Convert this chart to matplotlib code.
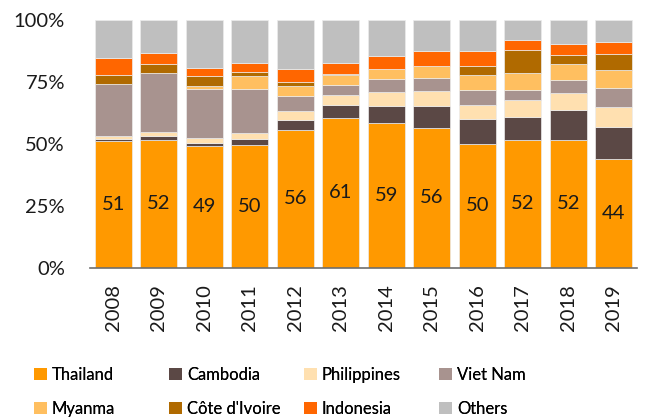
# Share of rice exports by origin, 2008-2019 (stacked 100% bars)

import matplotlib.pyplot as plt
from matplotlib.patches import Patch
import numpy as np

FONT = 'Lato'
TICK_SIZE = 14.5
LEGEND_SIZE = 12

years = ['2008', '2009', '2010', '2011', '2012', '2013',
         '2014', '2015', '2016', '2017', '2018', '2019']

thailand = [51.2, 51.6, 49.0, 49.6, 55.6, 60.6, 58.6, 56.2, 49.9, 51.6, 51.6, 43.8]
cambodia = [0.7, 1.5, 1.3, 2.4, 4.0, 5.0, 6.6, 9.2, 10.2, 9.1, 12.1, 13.0]
philippines = [1.4, 1.6, 2.1, 2.3, 3.6, 4.1, 5.9, 5.8, 5.4, 6.8, 7.0, 8.2]
viet_nam = [21.0, 23.8, 19.6, 17.9, 6.1, 4.1, 5.2, 5.5, 6.3, 4.3, 5.2, 7.4]
myanma = [0.0, 0.0, 1.5, 5.3, 3.9, 4.0, 4.1, 4.8, 5.9, 6.9, 6.5, 7.3]
cote_divoire = [3.4, 3.7, 4.0, 1.6, 1.8, 0.5, 0.0, 0.0, 3.6, 9.4, 3.3, 6.7]
indonesia = [7.0, 4.3, 3.2, 3.6, 5.2, 4.5, 5.0, 6.1, 6.3, 3.7, 4.8, 4.7]
others = [15.3, 13.5, 19.3, 17.3, 19.8, 17.2, 14.6, 12.4, 12.4, 8.2, 9.5, 8.9]

series = [thailand, cambodia, philippines, viet_nam,
          myanma, cote_divoire, indonesia, others]
names = ['Thailand', 'Cambodia', 'Philippines', 'Viet Nam',
         'Myanma', "Côte d'Ivoire", 'Indonesia', 'Others']
colors = ['#FF9900', '#5B4845', '#FFE0B0', '#A8938F',
          '#FFBF60', '#B06A00', '#FF6600', '#BFBFBF']

plt.rcParams['font.family'] = [FONT, 'DejaVu Sans']

fig = plt.figure(figsize=(6.52, 4.18), dpi=100)
ax = fig.add_axes([0.138, 0.360, 0.839, 0.592])

x = np.arange(len(years))
bottom = np.zeros(len(years))
for vals, name, col in zip(series, names, colors):
    ax.bar(x, vals, width=0.81, bottom=bottom, color=col,
           edgecolor='#ececec', linewidth=0.5, label=name)
    bottom += np.array(vals)

# Thailand share written in the middle of its segment
for xi, v in zip(x, thailand):
    ax.text(xi, v / 2, f'{v:.0f}', ha='center', va='center',
            fontsize=TICK_SIZE, color='#1a1a1a')

ax.set_xlim(-0.51, 11.51)
ax.set_ylim(0, 100)
ax.set_yticks([0, 25, 50, 75, 100])
ax.set_yticklabels(['0%', '25%', '50%', '75%', '100%'])
ax.set_xticks(x)
ax.set_xticklabels(years, rotation=90)
ax.tick_params(length=0, labelsize=TICK_SIZE, colors='#1a1a1a')
ax.tick_params(axis='x', pad=12)
ax.tick_params(axis='y', pad=18)

for side in ['top', 'right', 'left']:
    ax.spines[side].set_visible(False)
ax.spines['bottom'].set_color('#6e6e6e')
ax.spines['bottom'].set_linewidth(1.2)

# legend: 4 equal-width columns, two entries each (row by row)
col_x = [0.035, 0.242, 0.449, 0.656]
for c, cx in enumerate(col_x):
    idx = [c, c + 4]
    handles = [Patch(facecolor=colors[i], edgecolor='none') for i in idx]
    leg = fig.legend(handles, [names[i] for i in idx], loc='lower left',
                     bbox_to_anchor=(cx, -0.025), frameon=False,
                     fontsize=LEGEND_SIZE, handlelength=0.75,
                     handleheight=0.75, handletextpad=0.3,
                     labelspacing=1.08, borderaxespad=0.3)
    fig.add_artist(leg)

plt.savefig('out.png', dpi=100)
